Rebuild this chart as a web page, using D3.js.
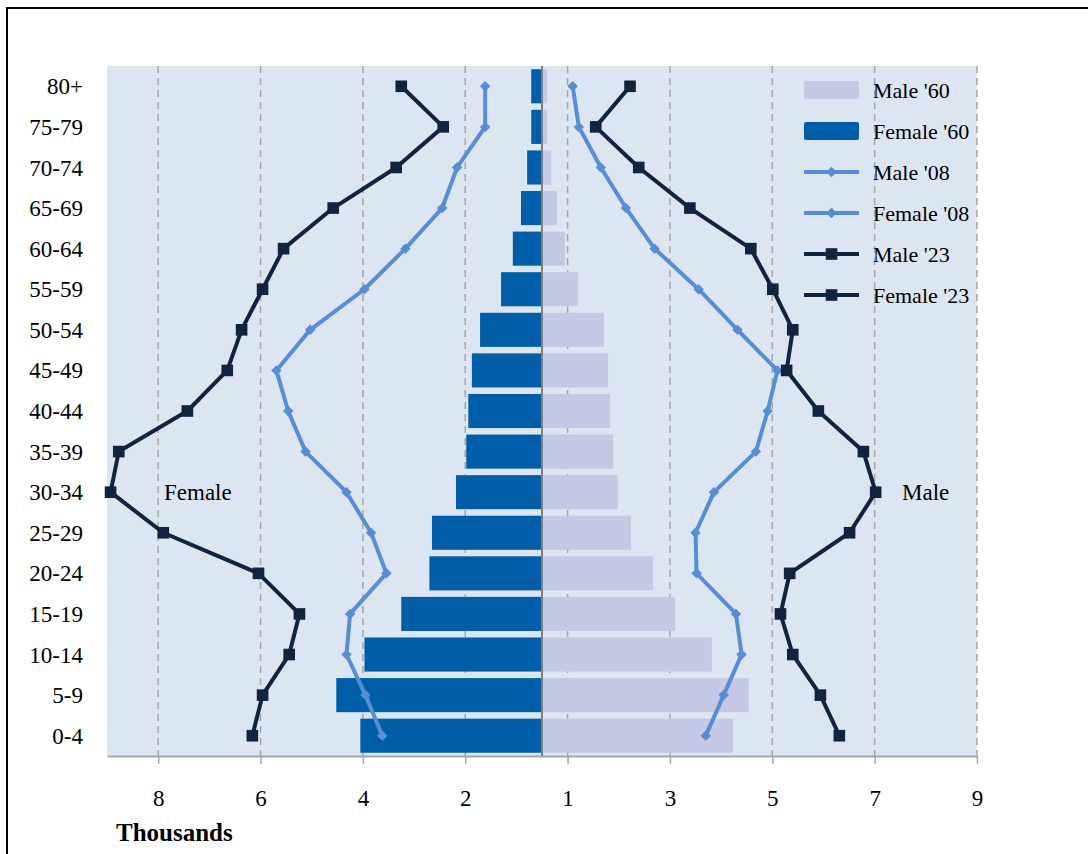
<!DOCTYPE html>
<html>
<head>
<meta charset="utf-8">
<script src="https://cdn.jsdelivr.net/npm/d3@7"></script>
<style>
  body { margin: 0; background: #fff; }
  text { font-family: "Liberation Serif", "Times New Roman", serif; fill: #000; }
</style>
</head>
<body>
<svg width="1088" height="854"></svg>
<script>
var ages = ["0-4", "5-9", "10-14", "15-19", "20-24", "25-29", "30-34", "35-39", "40-44",
    "45-49", "50-54", "55-59", "60-64", "65-69", "70-74", "75-79", "80+"]

// thousands
var male60 = [3.73, 4.04, 3.32, 2.60, 2.17, 1.74, 1.48, 1.39, 1.33, 1.29, 1.21, 0.70, 0.45, 0.29, 0.18, 0.10, 0.10]
var female60 = [3.55, 4.02, 3.47, 2.75, 2.20, 2.15, 1.68, 1.48, 1.44, 1.37, 1.21, 0.80, 0.57, 0.41, 0.29, 0.21, 0.21]
var male08 = [3.20, 3.55, 3.90, 3.79, 3.02, 3.00, 3.36, 4.18, 4.41, 4.60, 3.82, 3.06, 2.20, 1.64, 1.15, 0.72, 0.60]
var female08 = [3.12, 3.45, 3.82, 3.75, 3.04, 3.34, 3.82, 4.62, 4.96, 5.19, 4.53, 3.47, 2.67, 1.95, 1.66, 1.11, 1.11]
var male23 = [5.81, 5.44, 4.90, 4.66, 4.84, 6.01, 6.52, 6.28, 5.40, 4.78, 4.90, 4.51, 4.08, 2.89, 1.89, 1.05, 1.72]
var female23 = [5.66, 5.46, 4.94, 4.74, 5.54, 7.40, 8.43, 8.27, 6.93, 6.15, 5.87, 5.46, 5.05, 4.08, 2.85, 1.93, 2.75]

var tickValues = [-7.5, -5.5, -3.5, -1.5, 0.5, 2.5, 4.5, 6.5, 8.5]

var c_male60 = "#c5c9e6", c_female60 = "#005ea8", c_08 = "#558ed5", c_23 = "#10243f"

var svg = d3.select("svg")
var plot = { left: 107, right: 977, top: 66, bottom: 756 }

// outer frame, running off the right/bottom edge like the original
svg.append("rect")
    .attr("x", 7).attr("y", 8).attr("width", 1200).attr("height", 1000)
    .attr("fill", "none").attr("stroke", "#000").attr("stroke-width", 2)

var x = d3.scaleLinear().domain([-8.5, 8.5]).range([plot.left, plot.right])
var y = d3.scaleBand().domain(ages).range([plot.bottom, plot.top]).paddingInner(0.16).paddingOuter(0.08)
var yc = function (a) { return y(a) + y.bandwidth() / 2 }

svg.append("rect")
    .attr("x", plot.left).attr("y", plot.top)
    .attr("width", plot.right - plot.left).attr("height", plot.bottom - plot.top)
    .attr("fill", "#dce6f2")

// dashed grid
svg.append("g").selectAll("line")
    .data(tickValues)
    .enter().append("line")
    .attr("x1", function (d) { return x(d) }).attr("x2", function (d) { return x(d) })
    .attr("y1", plot.top).attr("y2", plot.bottom)
    .attr("stroke", "#a6a6a6").attr("stroke-width", 1.5).attr("stroke-dasharray", "7,5")

// x axis
var xAxis = svg.append("g")
    .attr("transform", "translate(0," + plot.bottom + ")")
    .call(d3.axisBottom(x).tickValues(tickValues).tickSize(8).tickSizeOuter(0)
        .tickFormat(function (d) { return Math.round(Math.abs(d)) }))
xAxis.attr("font-family", null).attr("font-size", null)
xAxis.select(".domain").attr("stroke", "#a6a6a6").attr("stroke-width", 2)
xAxis.selectAll(".tick line").attr("stroke", "#a6a6a6").attr("stroke-width", 1.5)
xAxis.selectAll(".tick text").attr("y", 34).attr("font-size", 23).attr("fill", "#000")

// bars
svg.append("g").selectAll("rect")
    .data(ages)
    .enter().append("rect")
    .attr("x", function (d, i) { return x(-female60[i]) })
    .attr("width", function (d, i) { return x(0) - x(-female60[i]) })
    .attr("y", function (d) { return y(d) })
    .attr("height", y.bandwidth())
    .attr("fill", c_female60)

svg.append("g").selectAll("rect")
    .data(ages)
    .enter().append("rect")
    .attr("x", x(0))
    .attr("width", function (d, i) { return x(male60[i]) - x(0) })
    .attr("y", function (d) { return y(d) })
    .attr("height", y.bandwidth())
    .attr("fill", c_male60)

// centre axis
svg.append("line")
    .attr("x1", x(0)).attr("x2", x(0)).attr("y1", plot.top).attr("y2", plot.bottom)
    .attr("stroke", "#7f7f7f").attr("stroke-width", 2)

// diamond = square turned 45 degrees, squat like the original markers
function marker(shape) {
    return shape == "square" ? d3.symbol().type(d3.symbolSquare).size(135)
        : d3.symbol().type(d3.symbolSquare).size(55)
}
function marker_rot(shape) { return shape == "square" ? "" : " rotate(45)" }

function draw_series(values, sign, color, shape) {
    var line = d3.line()
        .x(function (d, i) { return x(sign * d) })
        .y(function (d, i) { return yc(ages[i]) })
    svg.append("path")
        .datum(values)
        .attr("fill", "none").attr("stroke", color).attr("stroke-width", 4)
        .attr("stroke-linejoin", "round")
        .attr("d", line)
    svg.append("g").selectAll("path")
        .data(values)
        .enter().append("path")
        .attr("transform", function (d, i) {
            return "translate(" + x(sign * d) + "," + yc(ages[i]) + ")" + marker_rot(shape)
        })
        .attr("d", marker(shape))
        .attr("fill", color)
}

draw_series(female08, -1, c_08, "diamond")
draw_series(male08, 1, c_08, "diamond")
draw_series(female23, -1, c_23, "square")
draw_series(male23, 1, c_23, "square")

// y labels
svg.append("g").selectAll("text")
    .data(ages)
    .enter().append("text")
    .attr("x", 83).attr("y", function (d) { return yc(d) })
    .attr("dy", "0.35em").attr("text-anchor", "end").attr("font-size", 23)
    .text(function (d) { return d })

svg.append("text").attr("x", 164).attr("y", yc("30-34")).attr("dy", "0.35em")
    .attr("font-size", 23).text("Female")
svg.append("text").attr("x", 902).attr("y", yc("30-34")).attr("dy", "0.35em")
    .attr("font-size", 23).text("Male")

svg.append("text").attr("x", 116).attr("y", 841).attr("font-size", 25)
    .attr("font-weight", "bold").text("Thousands")

// legend
var legendItems = [
    { name: "Male '60", color: c_male60, type: "bar" },
    { name: "Female '60", color: c_female60, type: "bar" },
    { name: "Male '08", color: c_08, type: "diamond" },
    { name: "Female '08", color: c_08, type: "diamond" },
    { name: "Male '23", color: c_23, type: "square" },
    { name: "Female '23", color: c_23, type: "square" }
]
var legend = svg.selectAll(".legend")
    .data(legendItems)
    .enter().append("g")
    .attr("class", "legend")
    .attr("transform", function (d, i) { return "translate(804," + (90 + i * 41) + ")" })
legend.each(function (d) {
    var g = d3.select(this)
    if (d.type == "bar") {
        g.append("rect").attr("x", 0).attr("y", -9).attr("width", 55).attr("height", 18)
            .attr("rx", 2).attr("fill", d.color)
    } else {
        g.append("line").attr("x1", 0).attr("x2", 55).attr("y1", 0).attr("y2", 0)
            .attr("stroke", d.color).attr("stroke-width", 4)
        g.append("path").attr("transform", "translate(27.5,0)" + marker_rot(d.type))
            .attr("d", marker(d.type))
            .attr("fill", d.color)
    }
    g.append("text").attr("x", 69).attr("dy", "0.35em").attr("font-size", 22).text(d.name)
})
</script>
</body>
</html>
